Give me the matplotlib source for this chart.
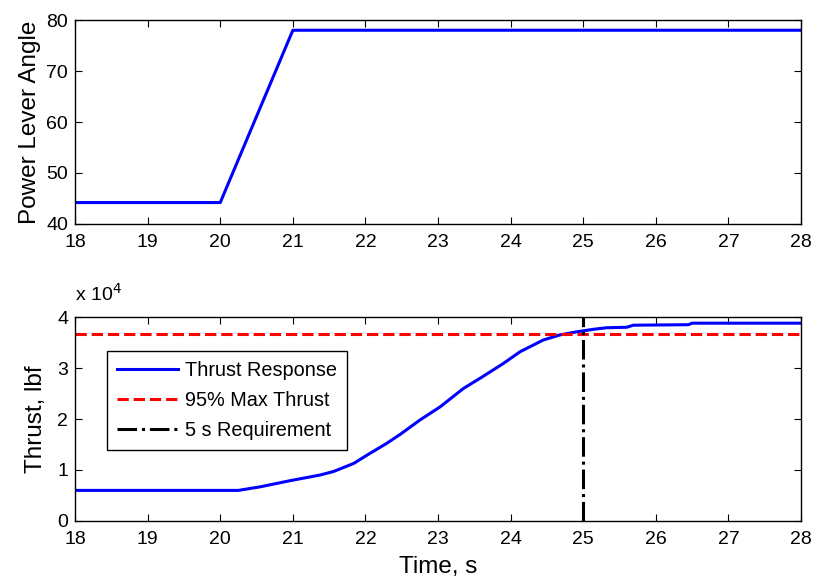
import numpy as np
import matplotlib
matplotlib.use('Agg')
import matplotlib.pyplot as plt
from matplotlib.ticker import FuncFormatter

plt.rcParams['font.family'] = ['Liberation Sans', 'DejaVu Sans']

# power lever angle
pla_time = [18.0, 20.0, 21.0, 28.0]
pla_value = [44.2, 44.2, 78.0, 78.0]

# thrust response, lbf
thrust_time = [18.0, 20.25, 20.55, 20.96, 21.37, 21.56, 21.84, 22.02, 22.29, 22.48,
               22.75, 23.03, 23.35, 23.58, 23.90, 24.13, 24.45, 24.68, 24.91, 25.14,
               25.32, 25.6, 25.69, 26.45, 26.5, 28.0]
thrust_value = [6000, 6000, 6700, 7900, 9000, 9700, 11300, 12900, 15200, 17000,
                19800, 22400, 26000, 28000, 30900, 33200, 35500, 36500, 37100, 37600,
                37900, 38000, 38400, 38500, 38800, 38800]

max_thrust_95 = 36600
requirement_time = 25.0

legend_labels = ['Thrust Response', '95% Max Thrust', '5 s Requirement']


def style_axes(ax):
    ax.tick_params(direction='in', top=True, right=True, length=5, width=0.8,
                   labelsize=14)
    ax.tick_params(axis='x', pad=7)
    ax.tick_params(axis='y', pad=5)
    for s in ax.spines.values():
        s.set_linewidth(1.0)
    ax.set_xlim(18, 28)
    ax.set_xticks(np.arange(18, 29, 1))


fig = plt.figure(figsize=(8.13, 5.81), dpi=100)

# верхний график - угол РУД
ax1 = fig.add_axes([0.0923, 0.6145, 0.893, 0.351])
ax1.plot(pla_time, pla_value, color='blue', linewidth=2.2)
ax1.set_ylim(40, 80)
ax1.set_yticks([40, 50, 60, 70, 80])
ax1.set_ylabel('Power Lever Angle', fontsize=17.5, labelpad=4)
style_axes(ax1)

# нижний график - тяга
ax2 = fig.add_axes([0.0923, 0.1033, 0.893, 0.351])
h1, = ax2.plot(thrust_time, thrust_value, color='blue', linewidth=2.2)
h2 = ax2.axhline(max_thrust_95, color='red', linestyle='--', linewidth=2.2)
h3, = ax2.plot([requirement_time, requirement_time], [0, 40000], color='black',
               linestyle='-.', linewidth=2.2)
ax2.set_ylim(0, 40000)
ax2.set_yticks([0, 10000, 20000, 30000, 40000])
ax2.yaxis.set_major_formatter(FuncFormatter(lambda v, p: '{:g}'.format(v / 1e4)))
ax2.set_ylabel('Thrust, lbf', fontsize=17.5, labelpad=7)
ax2.set_xlabel('Time, s', fontsize=17.5, labelpad=6)
style_axes(ax2)
ax2.text(0.0, 1.06, r'x 10$^4$', transform=ax2.transAxes, fontsize=14,
         ha='left', va='bottom')

leg = ax2.legend([h1, h2, h3], legend_labels, loc='upper left',
                 bbox_to_anchor=(0.044, 0.833), borderaxespad=0, fontsize=14.3,
                 fancybox=False, framealpha=1, edgecolor='black',
                 handlelength=3.1, handletextpad=0.35, labelspacing=0.55,
                 borderpad=0.5)
leg.get_frame().set_linewidth(1.0)

fig.savefig('out.png', dpi=100)
